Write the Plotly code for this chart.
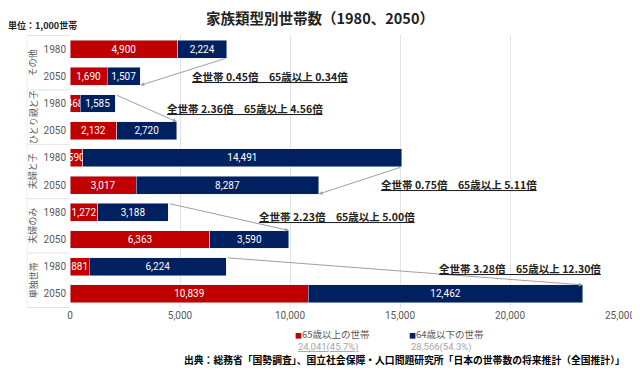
import plotly.graph_objects as go

# ---------------- data ----------------
groups = ["その他", "ひとり親と子", "夫婦と子", "夫婦のみ", "単独世帯"]
years = ["1980", "2050"]
over65 = [4900, 1690, 468, 2132, 590, 3017, 1272, 6363, 881, 10839]
under64 = [2224, 1507, 1585, 2720, 14491, 8287, 3188, 3590, 6224, 12462]
ratio_labels = [
    "全世帯 0.45倍　65歳以上 0.34倍",
    "全世帯 2.36倍　65歳以上 4.56倍",
    "全世帯 0.75倍　65歳以上 5.11倍",
    "全世帯 2.23倍　65歳以上 5.00倍",
    "全世帯 3.28倍　65歳以上 12.30倍",
]
legend_names = ["65歳以上の世帯", "64歳以下の世帯"]
legend_totals = ["24,041(45.7%)", "28,566(54.3%)"]
x_ticks = [0, 5000, 10000, 15000, 20000, 25000]

# ---------------- styling / layout ----------------
RED = "#C00000"
NAVY = "#002060"
JP = "Noto Sans CJK JP"
NUM = "Liberation Sans Narrow, Roboto, sans-serif"
BAR_HALF = 0.33
# the page body has an 8px default margin: compensate so the plot lands where intended
OFF = 8
W, H = 640 - OFF, 371 - OFF
PLOT_H = 273
# label placement: (x in data units, y in row-index units)
ratio_pos = [(9090, 1.0), (7955, 2.17), (17680, 4.96), (12136, 6.14), (20455, 8.05)]

cats = [f"{g}|{y}" for g in groups for y in years]
ticktext = [y for g in groups for y in years]

def fmt(v):
    return f"{v:,}"

def below(px):  # px below plot bottom -> paper y
    return -px / PLOT_H

fig = go.Figure()
for vals, col, nm in [(over65, RED, legend_names[0]), (under64, NAVY, legend_names[1])]:
    fig.add_trace(go.Bar(
        y=cats, x=vals, orientation="h", marker_color=col, name=nm,
        text=[fmt(v) for v in vals], textposition="inside", insidetextanchor="middle",
        textangle=0, constraintext="none",
        textfont=dict(color="white", size=10, family=NUM), width=0.66, cliponaxis=False,
    ))

annotations = []
shapes = []
for gi, g in enumerate(groups):
    i1, i2 = 2 * gi, 2 * gi + 1
    t1 = over65[i1] + under64[i1]
    t2 = over65[i2] + under64[i2]
    off = BAR_HALF if t2 < t1 else -BAR_HALF
    annotations.append(dict(
        x=t2, y=i2 + off, ax=t1, ay=i1 + off, xref="x", yref="y", axref="x", ayref="y",
        text="", showarrow=True, arrowhead=2, arrowsize=0.8, arrowwidth=1, arrowcolor="#A0A0A0",
    ))
    px, py = ratio_pos[gi]
    annotations.append(dict(
        x=px, y=py, xref="x", yref="y", text=f"<b><u>{ratio_labels[gi]}</u></b>",
        showarrow=False, font=dict(family=JP, size=10.5, color="#222222"),
    ))
    # group label (rotated)
    annotations.append(dict(
        x=-0.083, y=i1 + 0.5, xref="paper", yref="y", text=g, textangle=-90,
        showarrow=False, font=dict(family=JP, size=9, color="#595959"),
    ))
    shapes.append(dict(type="line", xref="paper", yref="y", x0=-0.078, x1=0,
                       y0=i1 - 0.5, y1=i1 - 0.5, line=dict(color="#E3E3E3", width=1)))
shapes.append(dict(type="line", xref="paper", yref="y", x0=-0.078, x1=0,
                   y0=len(cats) - 0.5, y1=len(cats) - 0.5, line=dict(color="#E3E3E3", width=1)))
shapes.append(dict(type="line", xref="paper", yref="y", x0=-0.078, x1=-0.078,
                   y0=-0.5, y1=len(cats) - 0.5, line=dict(color="#EEEEEE", width=1)))

# legend-like annotations (names and totals as separate lines)
legend_x = [0.406, 0.612]
legend_cols = [RED, NAVY]
for k in range(2):
    annotations.append(dict(
        x=legend_x[k], y=below(26), xref="paper", yref="paper", xanchor="left", yanchor="middle",
        showarrow=False, font=dict(family=JP, size=9.5, color="#595959"),
        text=f"<span style='color:{legend_cols[k]};font-size:7px'>■</span>{legend_names[k]}",
    ))
    tot = f"<u>{legend_totals[k]}</u>" if k == 0 else legend_totals[k]
    annotations.append(dict(
        x=legend_x[k] + 0.004, y=below(38.5), xref="paper", yref="paper", xanchor="left",
        yanchor="middle", showarrow=False, font=dict(family="Roboto", size=9.5, color="#A6A6A6"),
        text=tot,
    ))
annotations.append(dict(
    x=1.013, y=below(51.5), xref="paper", yref="paper", xanchor="right", yanchor="middle",
    showarrow=False, font=dict(family=JP, size=9.8, color="#000000"),
    text="<b>出典：総務省「国勢調査」、国立社会保障・人口問題研究所「日本の世帯数の将来推計（全国推計）」</b>",
))
annotations.append(dict(
    x=-0.117, y=1.035, xref="paper", yref="paper", xanchor="left", yanchor="middle",
    showarrow=False, font=dict(family=JP, size=9, color="#222222"),
    text="<b>単位：1,000世帯</b>",
))

fig.update_layout(
    width=W, height=H,
    margin=dict(l=70 - OFF, r=20, t=35 - OFF, b=63, autoexpand=False),
    barmode="stack",
    showlegend=False,
    plot_bgcolor="white", paper_bgcolor="white",
    title=dict(text="<b>家族類型別世帯数（1980、2050）</b>", x=(320 - OFF) / W, xanchor="center",
               y=1 - (19 - OFF) / H, yanchor="middle", font=dict(family=JP, size=14.5, color="#222222")),
    uniformtext=dict(minsize=10, mode="show"),
    annotations=annotations,
    shapes=shapes,
    xaxis=dict(range=[0, 25000], tickvals=x_ticks, tickformat=",", showgrid=True,
               gridcolor="#E3E3E3", zeroline=False, showline=False, automargin=False,
               tickfont=dict(family=NUM, size=10, color="#595959")),
    yaxis=dict(type="category", categoryorder="array", categoryarray=cats,
               autorange="reversed", tickvals=cats, ticktext=ticktext, automargin=False,
               showgrid=False, showline=False, ticks="", ticklabelstandoff=3,
               tickfont=dict(family=NUM, size=10, color="#595959")),
)

fig.write_html("out.html")
